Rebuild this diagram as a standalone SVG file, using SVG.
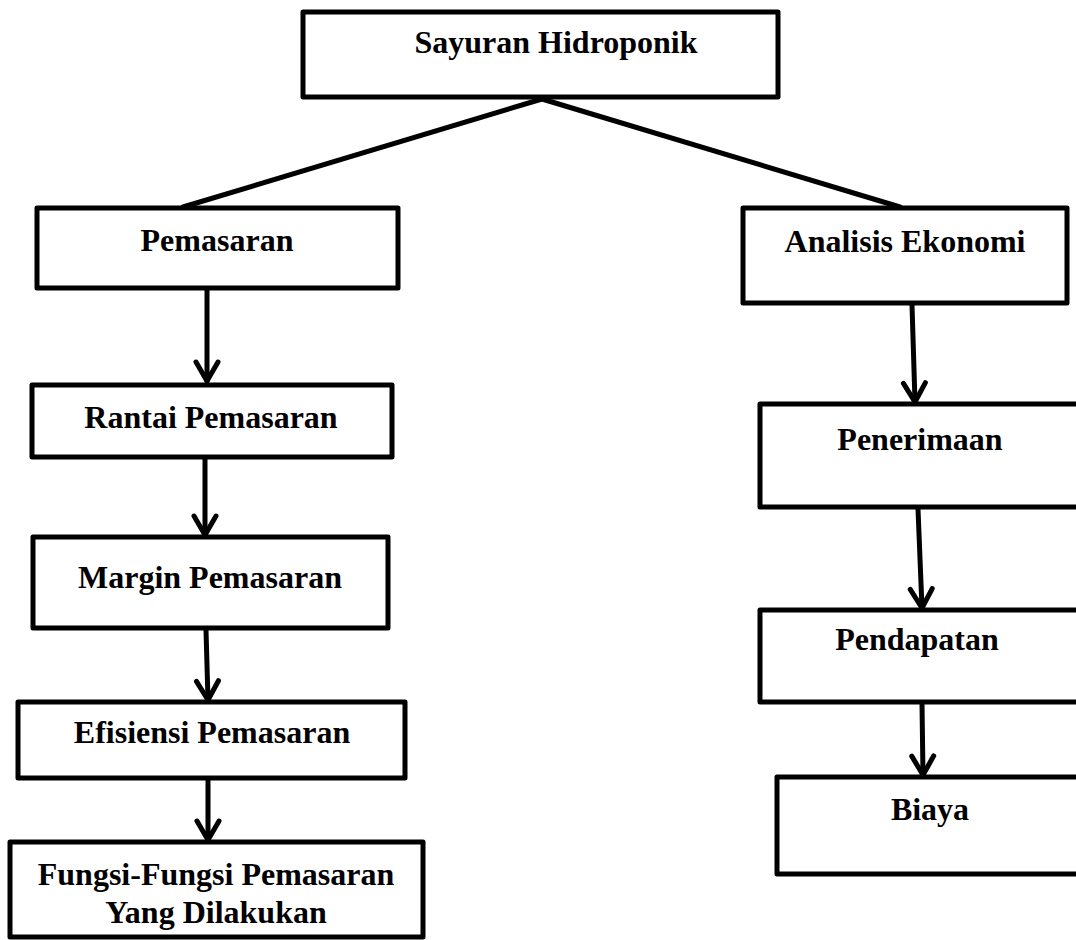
<svg xmlns="http://www.w3.org/2000/svg" width="1076" height="940" viewBox="0 0 1076 940">
<defs>
<style>
.box{fill:#fff;stroke:#000;stroke-width:5;stroke-linejoin:round}
.lbl{font-family:"Liberation Serif","Times New Roman",serif;font-weight:bold;font-size:32px;fill:#000;text-anchor:middle}
.con{fill:none;stroke:#000;stroke-width:5;stroke-linecap:round;stroke-linejoin:round}
</style>
<marker id="arr" markerUnits="userSpaceOnUse" markerWidth="30" markerHeight="32" viewBox="-24 -16 30 32" refX="0" refY="0" orient="auto">
<path d="M-19,-11 L0,0 L-19,11" fill="none" stroke="#000" stroke-width="5" stroke-linecap="round" stroke-linejoin="round"/>
</marker>
</defs>
<rect width="1076" height="940" fill="#fff"/>
<g id="connectors">
<path class="con" d="M183,207 L542,99 L900,207"/>
<path class="con" d="M207,290 L207,381" marker-end="url(#arr)"/>
<path class="con" d="M205,459 L205,535" marker-end="url(#arr)"/>
<path class="con" d="M206,630 L208,700" marker-end="url(#arr)"/>
<path class="con" d="M208,780 L208,840" marker-end="url(#arr)"/>
<path class="con" d="M912,305 L915,402" marker-end="url(#arr)"/>
<path class="con" d="M918,509 L922,608" marker-end="url(#arr)"/>
<path class="con" d="M922,704 L923,775" marker-end="url(#arr)"/>
</g>
<g id="n-sayuran"><rect class="box" x="303" y="12" width="475" height="85"/><text class="lbl" x="556" y="53">Sayuran Hidroponik</text></g>
<g id="n-pemasaran"><rect class="box" x="37" y="208" width="361" height="80"/><text class="lbl" x="217" y="251">Pemasaran</text></g>
<g id="n-rantai"><rect class="box" x="32" y="385" width="360" height="72"/><text class="lbl" x="211" y="428">Rantai Pemasaran</text></g>
<g id="n-margin"><rect class="box" x="33" y="537" width="355" height="91"/><text class="lbl" x="210" y="588">Margin Pemasaran</text></g>
<g id="n-efisiensi"><rect class="box" x="18" y="702" width="387" height="76"/><text class="lbl" x="212" y="743">Efisiensi Pemasaran</text></g>
<g id="n-fungsi"><rect class="box" x="10" y="842" width="413" height="95"/><text class="lbl" x="216" y="885">Fungsi-Fungsi Pemasaran</text><text class="lbl" x="216" y="923">Yang Dilakukan</text></g>
<g id="n-analisis"><rect class="box" x="743" y="208" width="324" height="95"/><text class="lbl" x="905" y="252">Analisis Ekonomi</text></g>
<g id="n-penerimaan"><rect class="box" x="760" y="404" width="330" height="103"/><text class="lbl" x="920" y="450">Penerimaan</text></g>
<g id="n-pendapatan"><rect class="box" x="760" y="610" width="330" height="92"/><text class="lbl" x="917" y="650">Pendapatan</text></g>
<g id="n-biaya"><rect class="box" x="777" y="777" width="320" height="97"/><text class="lbl" x="930" y="820">Biaya</text></g>
</svg>
